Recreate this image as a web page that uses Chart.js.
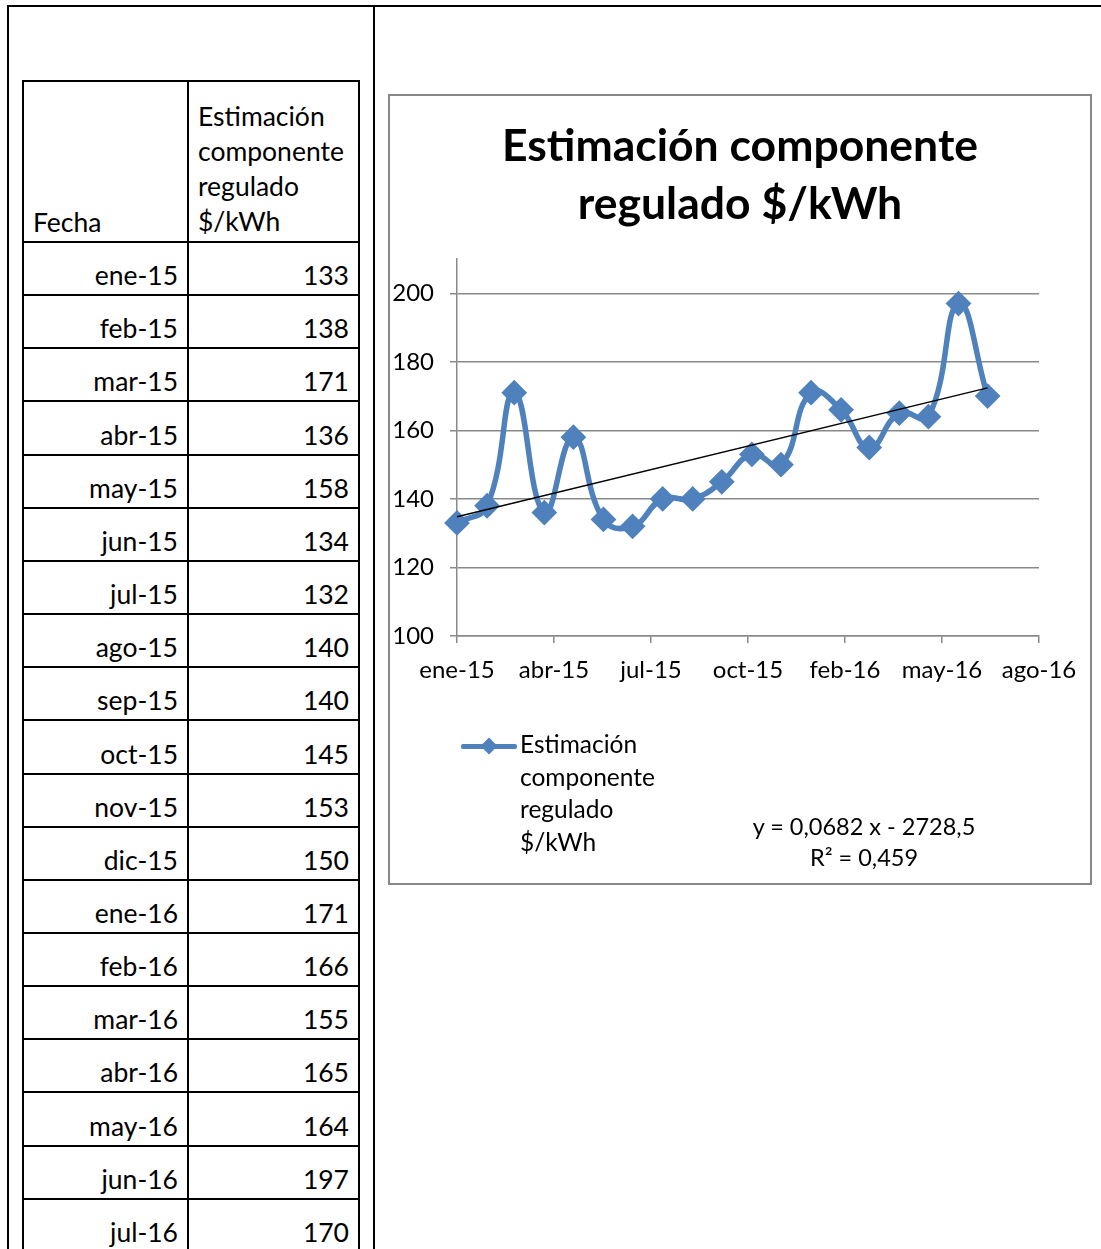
<!DOCTYPE html>
<html>
<head>
<meta charset="utf-8">
<script src="https://cdn.jsdelivr.net/npm/chart.js@4.4.0/dist/chart.umd.min.js"></script>
<style>
  body { margin: 0; background: #fff; font-family: Lato, "Open Sans", sans-serif; }
  #page { position: relative; width: 1101px; height: 1249px; overflow: hidden; }
  .ln { position: absolute; background: #000; }
  .cell { position: absolute; font-size: 26.5px; color: #000; white-space: nowrap; }
  #box { position: absolute; left: 388px; top: 94px; width: 700px; height: 787px; border: 2px solid #878787; }
  #chart-wrap { position: absolute; left: 0; top: 0; width: 700px; height: 787px; }
  #title { position: absolute; left: 0; width: 700px; top: 19px; text-align: center; font-weight: bold; font-size: 44.5px; line-height: 58px; }
  #legend { position: absolute; left: 71px; top: 632px; }
  #legend .sample { position: absolute; left: 0; top: 16px; width: 56px; height: 5px; background: #4F81BD; border-radius: 2px; }
  #legend .dia { position: absolute; left: 22px; top: 12px; width: 12px; height: 12px; background: #4F81BD; transform: rotate(45deg); }
  #legend .txt { position: absolute; left: 59px; top: 0; font-size: 24.5px; line-height: 32.5px; white-space: nowrap; }
  #eq { position: absolute; left: 274px; width: 400px; top: 715px; text-align: center; font-size: 23.5px; line-height: 31px; }
</style>
</head>
<body>
<div id="page">
  <div class="ln" style="left:7px;top:5px;width:1094px;height:2px"></div>
  <div class="ln" style="left:7px;top:5px;width:2px;height:1244px"></div>
  <div class="ln" style="left:373px;top:5px;width:2px;height:1244px"></div>
  <div id="table"></div>
  <div id="box">
    <div id="chart-wrap"><canvas id="line-chart" width="700" height="787"></canvas></div>
    <div id="title">Estimación componente<br>regulado $/kWh</div>
    <div id="legend">
      <div class="sample"></div><div class="dia"></div>
      <div class="txt">Estimación<br>componente<br>regulado<br>$/kWh</div>
    </div>
    <div id="eq">y = 0,0682 x - 2728,5<br>R² = 0,459</div>
  </div>
</div>
<script>
const fechas = ['ene-15', 'feb-15', 'mar-15', 'abr-15', 'may-15', 'jun-15', 'jul-15', 'ago-15', 'sep-15', 'oct-15',
  'nov-15', 'dic-15', 'ene-16', 'feb-16', 'mar-16', 'abr-16', 'may-16', 'jun-16', 'jul-16'];
const valores = [133, 138, 171, 136, 158, 134, 132, 140, 140, 145, 153, 150, 171, 166, 155, 165, 164, 197, 170];
const meses = ['ene', 'feb', 'mar', 'abr', 'may', 'jun', 'jul', 'ago', 'sep', 'oct', 'nov', 'dic'];
const encabezados = ['Fecha', 'Estimación<br>componente<br>regulado<br>$/kWh'];
const serieNombre = 'Estimación componente regulado $/kWh';

// excel style date serials (days)
function serial(f) {
  const [m, y] = f.split('-');
  return Date.UTC(2000 + Number(y), meses.indexOf(m), 1) / 86400000 + 25569;
}
function etiqueta(s) {
  const d = new Date((s - 25569) * 86400000);
  return meses[d.getUTCMonth()] + '-' + String(d.getUTCFullYear()).slice(2);
}

// ---- table ----
const tbl = document.getElementById('table');
let html = '';
const x0 = 22, x1 = 187, x2 = 358, top0 = 80, headBottom = 241, rowH = 53.15;
html += `<div class="ln" style="left:${x0}px;top:${top0}px;width:${x2 - x0 + 2}px;height:2px"></div>`;
html += `<div class="ln" style="left:${x0}px;top:${top0}px;width:2px;height:${1249 - top0}px"></div>`;
html += `<div class="ln" style="left:${x1}px;top:${top0}px;width:2px;height:${1249 - top0}px"></div>`;
html += `<div class="ln" style="left:${x2}px;top:${top0}px;width:2px;height:${1249 - top0}px"></div>`;
html += `<div class="ln" style="left:${x0}px;top:${headBottom}px;width:${x2 - x0 + 2}px;height:2px"></div>`;
html += `<div class="cell" style="left:33px;top:205px;line-height:35px">${encabezados[0]}</div>`;
html += `<div class="cell" style="left:198px;top:99px;line-height:35px">${encabezados[1]}</div>`;
fechas.forEach((f, i) => {
  const yb = headBottom + rowH * (i + 1);
  html += `<div class="ln" style="left:${x0}px;top:${Math.round(yb)}px;width:${x2 - x0 + 2}px;height:2px"></div>`;
  html += `<div class="cell" style="right:${1101 - 178}px;top:${Math.round(yb - 35)}px">${f}</div>`;
  html += `<div class="cell" style="right:${1101 - 349}px;top:${Math.round(yb - 35)}px">${valores[i]}</div>`;
});
tbl.innerHTML = html;

// ---- chart ----
const xs = fechas.map(serial);
const puntos = xs.map((x, i) => ({ x: x, y: valores[i] }));

// linear trend
const n = xs.length;
const mx = xs.reduce((a, b) => a + b, 0) / n;
const my = valores.reduce((a, b) => a + b, 0) / n;
let sxy = 0, sxx = 0;
xs.forEach((x, i) => { sxy += (x - mx) * (valores[i] - my); sxx += (x - mx) * (x - mx); });
const pend = sxy / sxx;
const inter = my - pend * mx;
const tendencia = [xs[0], xs[n - 1]].map(x => ({ x: x, y: inter + pend * x }));

const gris = '#898989';
const lineChart = document.getElementById('line-chart');

new Chart(lineChart, {
  type: 'line',
  data: {
    datasets: [{
      data: tendencia,
      borderColor: '#000',
      borderWidth: 1.5,
      pointRadius: 0,
      tension: 0,
      clip: false
    }, {
      label: serieNombre,
      data: puntos,
      borderColor: '#4F81BD',
      backgroundColor: '#4F81BD',
      borderWidth: 5.5,
      pointStyle: 'rectRot',
      pointRadius: 9,
      pointHoverRadius: 9,
      tension: 0.45,
      clip: false
    }]
  },
  options: {
    responsive: false,
    animation: false,
    events: [],
    layout: { padding: { top: 163, right: 51, bottom: 197, left: 0 } },
    scales: {
      x: {
        type: 'linear',
        min: xs[0],
        max: xs[0] + 600,
        afterFit: s => { s.height = 50; },
        grid: { display: true, drawOnChartArea: false, color: gris, lineWidth: 1.5, tickLength: 7 },
        border: { color: gris, width: 1.5 },
        ticks: {
          stepSize: 100,
          padding: 13,
          maxRotation: 0,
          color: '#000',
          font: { family: 'Lato', size: 24 },
          callback: v => etiqueta(v)
        }
      },
      y: {
        min: 100,
        max: 210,
        afterFit: s => { s.width = 67; },
        afterBuildTicks: s => { s.ticks = s.ticks.filter(t => t.value <= 200); },
        grid: { color: gris, lineWidth: 1.5, tickLength: 7 },
        border: { color: gris, width: 1.5 },
        ticks: {
          stepSize: 20,
          padding: 16,
          color: '#000',
          font: { family: 'Lato', size: 24 }
        }
      }
    },
    plugins: {
      legend: { display: false },
      tooltip: { enabled: false }
    }
  }
});
</script>
</body>
</html>
